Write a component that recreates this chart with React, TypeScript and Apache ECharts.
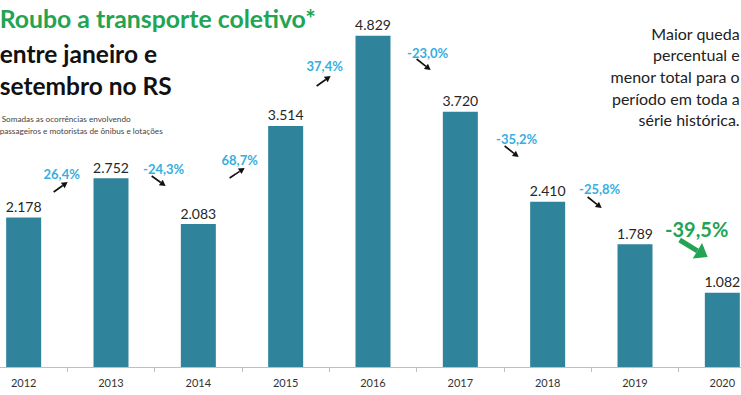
import React, { useEffect, useRef } from "react";
import * as echarts from "echarts";

// ---- data ----
const years = ["2012", "2013", "2014", "2015", "2016", "2017", "2018", "2019", "2020"];
const totals = [2178, 2752, 2083, 3514, 4829, 3720, 2410, 1789, 1082];
const changes = ["26,4%", "-24,3%", "68,7%", "37,4%", "-23,0%", "-35,2%", "-25,8%", "-39,5%"];
const titleGreen = "Roubo a transporte coletivo*";
const titleBlack = ["entre janeiro e", "setembro no RS"];
const noteLines = ["Somadas as ocorrências envolvendo", "passageiros e motoristas de ônibus e lotações"];
const sideNote = ["Maior queda", "percentual e", "menor total para o", "período em toda a", "série histórica."];

// ---- layout (positions only, page pixels) ----
const changePos: [number, number][] = [
  [62, 174], [164, 169], [240, 160], [325, 66], [428, 53], [517, 139], [600, 189], [697, 229],
];
const arrowPos: [number, number, number, number][] = [
  [54, 192, 68, 182], [152, 176, 166, 186], [230, 178, 245, 168], [317, 86, 331, 76],
  [417, 59, 431, 70], [505, 146, 519, 157], [588, 197, 602, 208], [680, 240, 708, 257],
];
// the chart box extends past the page edges so the outer bars touch them
const OX = 19.66;
const BOX_W = 785.8;

const FONT = "Lato, 'Open Sans', sans-serif";
const BAR = "#2f839b";
const BLUE = "#36aee0";
const GREEN = "#22a452";

function fmt(v: number) {
  return String(v).replace(/\B(?=(\d{3})+(?!\d))/g, ".");
}

function arrow(x1: number, y1: number, x2: number, y2: number, color: string, w: number, head: number, spread: number) {
  x1 += OX;
  x2 += OX;
  const ang = Math.atan2(y2 - y1, x2 - x1);
  const hx = x2 - head * Math.cos(ang);
  const hy = y2 - head * Math.sin(ang);
  const px = -Math.sin(ang) * head * spread;
  const py = Math.cos(ang) * head * spread;
  return [
    { type: "line", shape: { x1, y1, x2: hx, y2: hy }, style: { stroke: color, lineWidth: w }, z: 10 },
    {
      type: "polygon",
      shape: { points: [[x2, y2], [hx + px, hy + py], [hx - px, hy - py]] },
      style: { fill: color },
      z: 10,
    },
  ];
}

export default function App() {
  const ref = useRef<HTMLDivElement>(null);
  useEffect(() => {
    if (!ref.current) return;
    const chart = echarts.init(ref.current, undefined, { renderer: "svg" });
    const graphics: any[] = [];
    graphics.push({
      type: "text", x: OX, y: 6, z: 10,
      style: { text: titleGreen, fill: GREEN, font: `bold 24.8px ${FONT}` },
    });
    titleBlack.forEach((t, i) => {
      graphics.push({
        type: "text", x: OX, y: 41 + i * 32, z: 10,
        style: { text: t, fill: "#111", font: `bold 24.5px ${FONT}` },
      });
    });
    noteLines.forEach((t, i) => {
      graphics.push({
        type: "text", x: OX + (i === 0 ? 2 : 0), y: 115 + i * 12, z: 10,
        style: { text: t, fill: "#444", font: `8.2px ${FONT}` },
      });
    });
    sideNote.forEach((t, i) => {
      graphics.push({
        type: "text", x: OX + 740, y: 33 + i * 21.7, z: 10,
        style: { text: t, fill: "#222", font: `16px ${FONT}`, align: "right", verticalAlign: "middle" },
      });
    });
    changes.forEach((t, i) => {
      const last = i === changes.length - 1;
      graphics.push({
        type: "text", x: OX + changePos[i][0], y: changePos[i][1], z: 10,
        style: {
          text: t,
          fill: last ? GREEN : BLUE,
          font: `bold ${last ? 20 : 13}px ${FONT}`,
          align: "center",
          verticalAlign: "middle",
        },
      });
      const a = arrowPos[i];
      graphics.push(
        ...arrow(a[0], a[1], a[2], a[3], last ? GREEN : "#111", last ? 5 : 1.6, last ? 12 : 6, last ? 0.75 : 0.55)
      );
    });

    chart.setOption({
      animation: false,
      backgroundColor: "#ffffff",
      grid: { left: 0, right: 0, top: 24, bottom: 28, containLabel: false },
      xAxis: {
        type: "category",
        data: years,
        axisLine: { lineStyle: { color: "#bfbfbf", width: 1 } },
        axisTick: { show: true, length: 5, lineStyle: { color: "#bfbfbf" } },
        axisLabel: { color: "#333", fontSize: 11, fontFamily: FONT, margin: 10 },
      },
      yAxis: { type: "value", min: 0, max: 5000, show: false, splitLine: { show: false } },
      series: [
        {
          type: "bar",
          data: totals,
          barWidth: 35,
          itemStyle: { color: BAR },
          label: {
            show: true,
            position: "top",
            distance: 4,
            color: "#262626",
            fontSize: 14,
            fontFamily: FONT,
            formatter: (p: any) => fmt(p.value),
          },
        },
      ],
      graphic: graphics,
    });
    return () => chart.dispose();
  }, []);
  return (
    <div
      ref={ref}
      style={{ position: "fixed", left: -OX, top: 0, width: BOX_W, height: 395 }}
    />
  );
}
